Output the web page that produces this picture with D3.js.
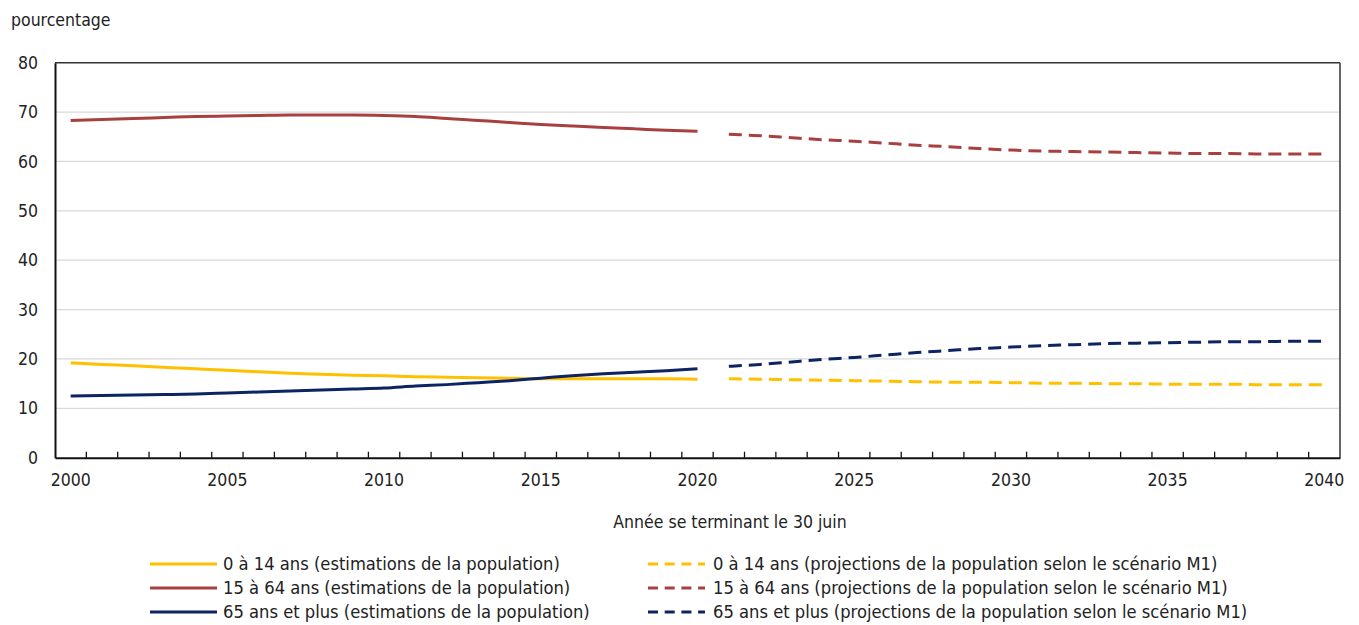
<!DOCTYPE html>
<html><head><meta charset="utf-8">
<script src="https://cdn.jsdelivr.net/npm/d3@7"></script>
<style>
body{margin:0;background:#fff;}
text{font-family:"Liberation Sans Narrow","Arial Narrow","DejaVu Sans Condensed",sans-serif;fill:#222;}
</style></head>
<body><svg id="c" width="1359" height="625"></svg>
<script>
const years = d3.range(2000, 2041);
const estYears = d3.range(2000, 2021);
const projYears = d3.range(2021, 2041);
const est0_14 = [19.2,18.9,18.6,18.3,18.0,17.7,17.4,17.1,16.9,16.7,16.6,16.4,16.3,16.2,16.1,16.0,16.0,16.0,16.0,16.0,15.9];
const est15_64 = [68.3,68.5,68.7,68.9,69.1,69.2,69.3,69.4,69.4,69.4,69.3,69.1,68.7,68.3,67.9,67.5,67.2,66.9,66.6,66.3,66.1];
const est65 = [12.5,12.6,12.7,12.8,12.9,13.1,13.3,13.5,13.7,13.9,14.1,14.5,14.8,15.2,15.6,16.1,16.6,17.0,17.3,17.6,18.0];
const proj0_14 = [16.0,15.9,15.8,15.7,15.6,15.5,15.4,15.3,15.3,15.2,15.1,15.1,15.0,15.0,14.9,14.9,14.9,14.8,14.8,14.8];
const proj15_64 = [65.5,65.2,64.8,64.4,64.1,63.7,63.3,63.0,62.6,62.3,62.1,62.0,61.9,61.8,61.7,61.6,61.6,61.5,61.5,61.5];
const proj65 = [18.5,18.9,19.4,19.9,20.3,20.8,21.3,21.7,22.1,22.4,22.7,22.9,23.1,23.2,23.3,23.4,23.5,23.5,23.6,23.6];
const yTicks = [0,10,20,30,40,50,60,70,80];
const xLabels = [2000,2005,2010,2015,2020,2025,2030,2035,2040];
const legendLabels = [
 "0 à 14 ans (estimations de la population)",
 "15 à 64 ans (estimations de la population)",
 "65 ans et plus (estimations de la population)",
 "0 à 14 ans (projections de la population selon le scénario M1)",
 "15 à 64 ans (projections de la population selon le scénario M1)",
 "65 ans et plus (projections de la population selon le scénario M1)"
];
const colors = ["#ffc000","#a84040","#0c2461"];

const svg = d3.select("#c");
const L=55, R=1340, T=62.7, B=457.7;
const x = d3.scaleBand().domain(years).range([L,R]);
const xc = d => x(d)+x.bandwidth()/2;
const y = d3.scaleLinear().domain([0,80]).range([B,T]);

// gridlines
svg.append("g").selectAll("line").data(yTicks.filter(t=>t>0&&t<80)).join("line")
 .attr("x1",L).attr("x2",R).attr("y1",d=>y(d)).attr("y2",d=>y(d))
 .attr("stroke","#d9d9d9").attr("stroke-width",1.3);

// frame top/right
svg.append("line").attr("x1",L).attr("x2",R).attr("y1",T).attr("y2",T).attr("stroke","#333").attr("stroke-width",1.5);
svg.append("line").attr("x1",R).attr("x2",R).attr("y1",T).attr("y2",B).attr("stroke","#555").attr("stroke-width",1.8);

// y axis
const ya = svg.append("g").attr("transform",`translate(${L},0)`)
 .call(d3.axisLeft(y).tickValues(yTicks).tickSize(0).tickPadding(17));
ya.select(".domain").attr("stroke","#111").attr("stroke-width",2);
ya.selectAll("text").attr("font-size",17.5).style("font-family",null);

// x axis
const xa = svg.append("g").attr("transform",`translate(0,${B})`)
 .call(d3.axisBottom(x).tickValues(xLabels).tickSize(0).tickPadding(16));
xa.select(".domain").attr("stroke","#111").attr("stroke-width",2);
xa.selectAll("text").attr("font-size",17.5).style("font-family",null);
// minor ticks at band boundaries
svg.append("g").selectAll("line").data(years.slice(1)).join("line")
 .attr("x1",d=>x(d)).attr("x2",d=>x(d)).attr("y1",B).attr("y2",B-6)
 .attr("stroke","#111").attr("stroke-width",1.3);

svg.append("text").attr("x",11).attr("y",26).attr("font-size",17.5).text("pourcentage");
svg.append("text").attr("x",730).attr("y",528).attr("text-anchor","middle").attr("font-size",17.5).text("Année se terminant le 30 juin");

const line = d3.line().x(d=>xc(d[0])).y(d=>y(d[1])).curve(d3.curveMonotoneX);
const est = [est0_14, est15_64, est65];
const proj = [proj0_14, proj15_64, proj65];
est.forEach((s,i)=>{
 svg.append("path").datum(estYears.map((yr,j)=>[yr,s[j]])).attr("d",line)
  .attr("fill","none").attr("stroke",colors[i]).attr("stroke-width",3);
});
proj.forEach((s,i)=>{
 svg.append("path").datum(projYears.map((yr,j)=>[yr,s[j]])).attr("d",line)
  .attr("fill","none").attr("stroke",colors[i]).attr("stroke-width",3).attr("stroke-dasharray","13,7");
});

// legend
const lg = svg.append("g");
legendLabels.forEach((t,i)=>{
 const col = Math.floor(i/3), row = i%3;
 const ly = 564 + row*24;
 const lx0 = col===0?150:648, lx1 = col===0?217:705, tx = col===0?223:713;
 lg.append("line").attr("x1",lx0).attr("x2",lx1).attr("y1",ly).attr("y2",ly)
  .attr("stroke",colors[row]).attr("stroke-width",3).attr("stroke-dasharray",col===1?"10,6.7":null);
 lg.append("text").attr("x",tx).attr("y",ly+6).attr("font-size",18.2).text(t);
});
</script></body></html>
